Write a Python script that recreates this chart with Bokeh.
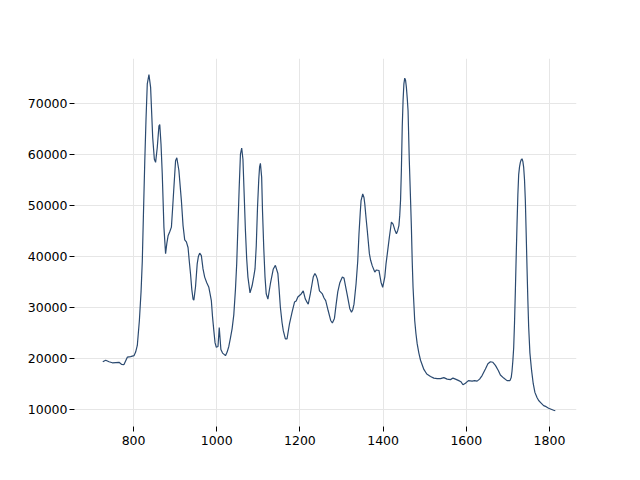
from bokeh.plotting import figure
from bokeh.models import Range1d, FixedTicker, BasicTickFormatter
from bokeh.embed import file_html
from bokeh.resources import INLINE

wavenumber = [726, 733, 741, 749, 757, 765, 771, 777, 785, 793, 801, 805, 809, 814, 818, 821, 824, 827, 830, 833,
              837, 841, 846, 850, 853, 857, 861, 863, 866, 869, 873, 877, 880, 883, 887, 891, 894, 897, 901, 904,
              909, 915, 919, 923, 927, 931, 934, 937, 940, 943, 945, 949, 953, 956, 959, 963, 967, 971, 976, 981,
              984, 987, 990, 993, 996, 999, 1003, 1006, 1010, 1014, 1017, 1021, 1025, 1029, 1033, 1037, 1041, 1045,
              1048, 1051, 1054, 1057, 1060, 1063, 1066, 1069, 1072, 1075, 1080, 1085, 1089, 1092, 1095, 1098, 1101,
              1103, 1105, 1108, 1110, 1113, 1116, 1119, 1123, 1129, 1136, 1141, 1147, 1150, 1153, 1157, 1160, 1165,
              1169, 1175, 1181, 1187, 1191, 1195, 1199, 1203, 1208, 1213, 1217, 1220, 1225, 1229, 1232, 1236, 1239,
              1242, 1247, 1254, 1258, 1262, 1268, 1274, 1278, 1283, 1287, 1291, 1296, 1302, 1306, 1310, 1314, 1320,
              1324, 1327, 1330, 1335, 1339, 1342, 1345, 1347, 1351, 1354, 1356, 1359, 1362, 1367, 1370, 1374, 1380,
              1384, 1390, 1395, 1399, 1404, 1407, 1410, 1415, 1420, 1424, 1428, 1432, 1435, 1438, 1440, 1442, 1444,
              1446, 1448, 1450, 1452, 1454, 1456, 1458, 1460, 1463, 1466, 1468, 1470, 1472, 1476, 1479, 1482, 1486,
              1490, 1498, 1505, 1514, 1522, 1530, 1538, 1546, 1554, 1562, 1568, 1574, 1582, 1587, 1592, 1598, 1605,
              1614, 1620, 1626, 1632, 1638, 1646, 1652, 1658, 1664, 1670, 1677, 1682, 1690, 1698, 1705, 1708, 1710,
              1712, 1714, 1716, 1718, 1720, 1722, 1724, 1726, 1728, 1730, 1732, 1734, 1736, 1738, 1740, 1742, 1744,
              1746, 1748, 1750, 1753, 1757, 1761, 1765, 1770, 1774, 1780, 1786, 1792, 1798, 1804, 1810, 1814]

intensity = [19300, 19600, 19300, 19100, 19150, 19200, 18800, 18750, 20200, 20300, 20500, 21200, 22500, 27400,
             33000, 39000, 49000, 58700, 67000, 73800, 75600, 73100, 63300, 59000, 58400, 61300, 65500, 65800,
             62000, 56100, 45700, 40500, 42500, 44000, 44800, 45700, 49500, 53500, 58700, 59300, 56800, 50900,
             46000, 43200, 42800, 41700, 39000, 36500, 33500, 31600, 31400, 34000, 38500, 40000, 40600, 40100,
             37500, 35900, 34800, 33900, 32600, 31300, 28000, 25400, 23000, 22150, 22300, 26000, 21700, 21000,
             20800, 20500, 21200, 22300, 24000, 25800, 28500, 33500, 38500, 46000, 53500, 60000, 61200, 59000,
             52000, 45000, 39500, 35900, 32800, 34200, 36000, 37500, 42000, 49500, 55000, 57500, 58200, 55500,
             49000, 41700, 36000, 32600, 31600, 34600, 37500, 38200, 36600, 33500, 30000, 27000, 25400, 23800,
             23800, 26800, 29000, 31000, 31200, 32000, 32300, 32600, 33200, 31600, 31000, 30600, 32600, 34500,
             35900, 36600, 36200, 35500, 33200, 32600, 31800, 31300, 29300, 27400, 26900, 27800, 30500, 33000,
             34800, 35900, 35700, 34000, 32300, 29700, 29000, 29500, 30600, 34600, 39000, 44400, 48500, 50900,
             52200, 51500, 50200, 47500, 45000, 40500, 39200, 38100, 36900, 37300, 37200, 34900, 33900, 35900,
             38500, 40400, 43700, 46700, 46300, 45200, 44400, 45000, 46000, 48000, 51000, 57000, 65300, 70500,
             73800, 74900, 74500, 73100, 71000, 68500, 58700, 51000, 45700, 39000, 33900, 27400, 24800, 22800,
             21000, 19600, 17800, 16900, 16400, 16100, 16000, 16000, 16200, 15900, 15800, 16100, 15900, 15600,
             15400, 14800, 15100, 15600, 15500, 15600, 15500, 15900, 16600, 17900, 18900, 19300, 19200, 18600,
             17600, 16700, 16100, 15600, 15600, 16200, 17500, 19500, 22100, 27000, 33200, 40000, 46300, 52000,
             56000, 57500, 58400, 58900, 59100, 58600, 57400, 55000, 50900, 44500, 37800, 31500, 26100, 21000,
             17600, 15000, 13300, 12300, 11700, 11200, 10700, 10500, 10200, 10000, 9800, 9700]

x_ticks = [800, 1000, 1200, 1400, 1600, 1800]
y_ticks = [10000, 20000, 30000, 40000, 50000, 60000, 70000]

p = figure(output_backend="svg", toolbar_location=None,
           frame_width=502, frame_height=368,
           min_border_left=74, min_border_right=48, min_border_top=58, min_border_bottom=38,
           x_range=Range1d(658, 1865), y_range=Range1d(6610, 78760))

p.line(wavenumber, intensity, line_color="#2b4a70", line_width=1.2)

p.outline_line_color = None
p.background_fill_color = "white"
p.border_fill_color = "white"

for ax in (p.xaxis[0], p.yaxis[0]):
    ax.axis_line_color = None
    ax.major_tick_in = 0
    ax.major_tick_out = 5
    ax.major_tick_line_color = "black"
    ax.major_tick_line_width = 1
    ax.minor_tick_line_color = None
    ax.major_label_text_font = "DejaVu Sans"
    ax.major_label_text_font_size = "12.5px"
    ax.major_label_text_color = "black"
    ax.formatter = BasicTickFormatter(use_scientific=False)

p.yaxis[0].major_label_standoff = 2
p.xaxis[0].major_label_standoff = 4

p.xaxis[0].ticker = FixedTicker(ticks=x_ticks)
p.yaxis[0].ticker = FixedTicker(ticks=y_ticks)

p.xgrid[0].ticker = FixedTicker(ticks=x_ticks)
p.ygrid[0].ticker = FixedTicker(ticks=y_ticks)
for g in (p.xgrid[0], p.ygrid[0]):
    g.grid_line_color = "#e6e6e6"
    g.grid_line_width = 1

open("out.html", "w").write(file_html(p, INLINE))
